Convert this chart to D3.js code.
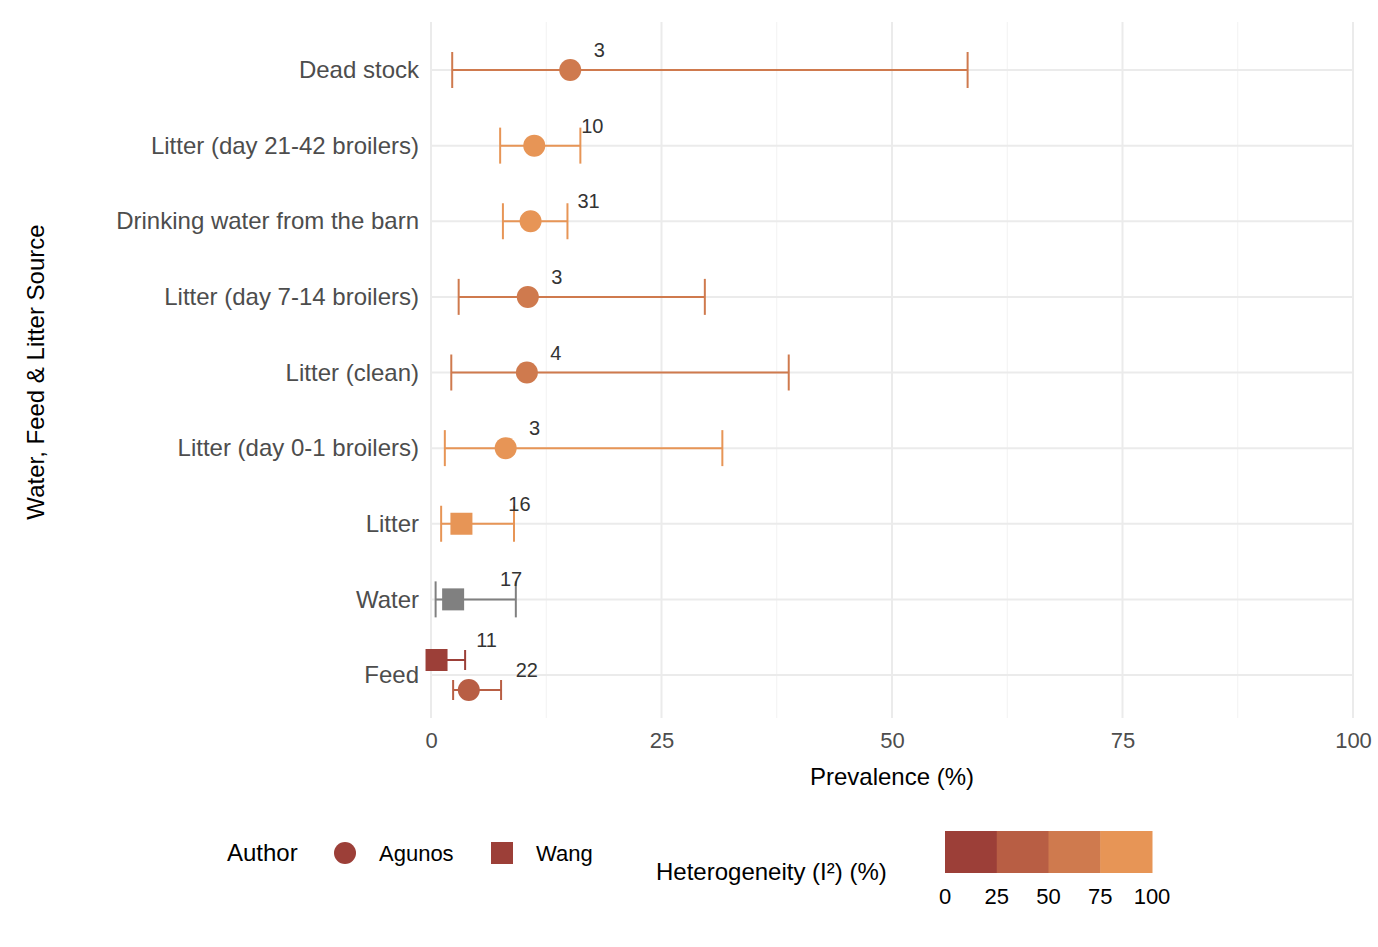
<!DOCTYPE html><html><head><meta charset="utf-8"><script src="https://cdn.jsdelivr.net/npm/d3@7"></script>
<style>body{margin:0;background:#fff;font-family:Arial,"Liberation Sans",sans-serif}</style></head><body><svg id="c" width="1378" height="947"></svg>
<script>
const categories=["Dead stock","Litter (day 21-42 broilers)","Drinking water from the barn","Litter (day 7-14 broilers)","Litter (clean)","Litter (day 0-1 broilers)","Litter","Water","Feed"];
const rowCat=["Dead stock","Litter (day 21-42 broilers)","Drinking water from the barn","Litter (day 7-14 broilers)","Litter (clean)","Litter (day 0-1 broilers)","Litter","Water","Feed","Feed"];
const author=["Agunos","Agunos","Agunos","Agunos","Agunos","Agunos","Wang","Wang","Wang","Agunos"];
const est=[15.1,11.2,10.8,10.5,10.4,8.1,3.3,2.4,0.6,4.1];
const lo=[2.3,7.5,7.8,3.0,2.2,1.5,1.1,0.5,0.0,2.4];
const hi=[58.2,16.2,14.8,29.7,38.8,31.6,9.0,9.2,3.7,7.6];
const nStudies=[3,10,31,3,4,3,16,17,11,22];
const i2=[60,90,90,60,60,90,90,null,10,40];
const dodge=[0,0,0,0,0,0,0,0,-1,1];
const xTicks=[0,25,50,75,100];
const i2Breaks=[0,25,50,75,100];
const i2Colors=["#9c3f38","#b85e44","#cf7a4e","#e79556"];

const svg=d3.select("#c");
const L=431,R=1353,T=22,B=718;
const x=d3.scaleLinear().domain([0,100]).range([L,R]);
const y=d3.scalePoint().domain(categories).range([70,675]);
const col=d3.scaleThreshold().domain([25,50,75]).range(i2Colors);
const g=svg.append("g");
// grid
d3.range(12.5,100,25).forEach(v=>g.append("line").attr("x1",x(v)).attr("x2",x(v)).attr("y1",T).attr("y2",B).attr("stroke","#f2f2f2").attr("stroke-width",1));
xTicks.forEach(v=>g.append("line").attr("x1",x(v)).attr("x2",x(v)).attr("y1",T).attr("y2",B).attr("stroke","#ebebeb").attr("stroke-width",2));
categories.forEach(c=>g.append("line").attr("x1",L).attr("x2",R).attr("y1",y(c)).attr("y2",y(c)).attr("stroke","#ebebeb").attr("stroke-width",2));
// axes text
const xa=svg.append("g").attr("transform",`translate(0,${B})`).call(d3.axisBottom(x).tickValues(xTicks).tickSize(0).tickPadding(14));
xa.select(".domain").remove();
xa.selectAll("text").attr("font-size",22).attr("fill","#4d4d4d").attr("font-family","Arial,Liberation Sans,sans-serif");
const ya=svg.append("g").attr("transform",`translate(${L},0)`).call(d3.axisLeft(y).tickSize(0).tickPadding(12));
ya.select(".domain").remove();
ya.selectAll("text").attr("font-size",24).attr("fill","#4d4d4d").attr("font-family","Arial,Liberation Sans,sans-serif");
svg.append("text").attr("x",x(50)).attr("y",785).attr("text-anchor","middle").attr("font-size",24).text("Prevalence (%)");
svg.append("text").attr("transform","translate(44,372) rotate(-90)").attr("text-anchor","middle").attr("font-size",24).text("Water, Feed & Litter Source");
// marks
est.forEach((e,i)=>{
  const yy=y(rowCat[i])+dodge[i]*15;
  const c=i2[i]==null?"#808080":col(i2[i]);
  const h=dodge[i]?10:18;
  g.append("line").attr("x1",x(lo[i])).attr("x2",x(hi[i])).attr("y1",yy).attr("y2",yy).attr("stroke",c).attr("stroke-width",2);
  [lo[i],hi[i]].forEach(v=>g.append("line").attr("x1",x(v)).attr("x2",x(v)).attr("y1",yy-h).attr("y2",yy+h).attr("stroke",c).attr("stroke-width",2));
  if(author[i]==="Agunos") g.append("circle").attr("cx",x(e)).attr("cy",yy).attr("r",11).attr("fill",c);
  else g.append("rect").attr("x",x(e)-11).attr("y",yy-11).attr("width",22).attr("height",22).attr("fill",c);
  const s=String(nStudies[i]);
  g.append("text").attr("x",x(e)+(s.length>1?(dodge[i]<0?50:58):29)).attr("y",yy-20).attr("dy","0.35em").attr("text-anchor","middle").attr("font-size",20).attr("fill","#333").text(s);
});
// legend author
svg.append("text").attr("x",227).attr("y",861).attr("font-size",24).text("Author");
svg.append("circle").attr("cx",345).attr("cy",853).attr("r",11).attr("fill","#9c3f38");
svg.append("text").attr("x",379).attr("y",861).attr("font-size",22).text("Agunos");
svg.append("rect").attr("x",491).attr("y",842).attr("width",22).attr("height",22).attr("fill","#9c3f38");
svg.append("text").attr("x",536).attr("y",861).attr("font-size",22).text("Wang");
// colorbar
svg.append("text").attr("x",656).attr("y",880).attr("font-size",24).text("Heterogeneity (I²) (%)");
const cb=d3.scaleLinear().domain([0,100]).range([945,1152]);
i2Colors.forEach((c,k)=>svg.append("rect").attr("x",cb(i2Breaks[k])).attr("y",831).attr("width",cb(i2Breaks[k+1])-cb(i2Breaks[k])+0.5).attr("height",42).attr("fill",c));
i2Breaks.forEach(v=>svg.append("text").attr("x",cb(v)).attr("y",904).attr("text-anchor","middle").attr("font-size",22).text(v));
</script></body></html>
